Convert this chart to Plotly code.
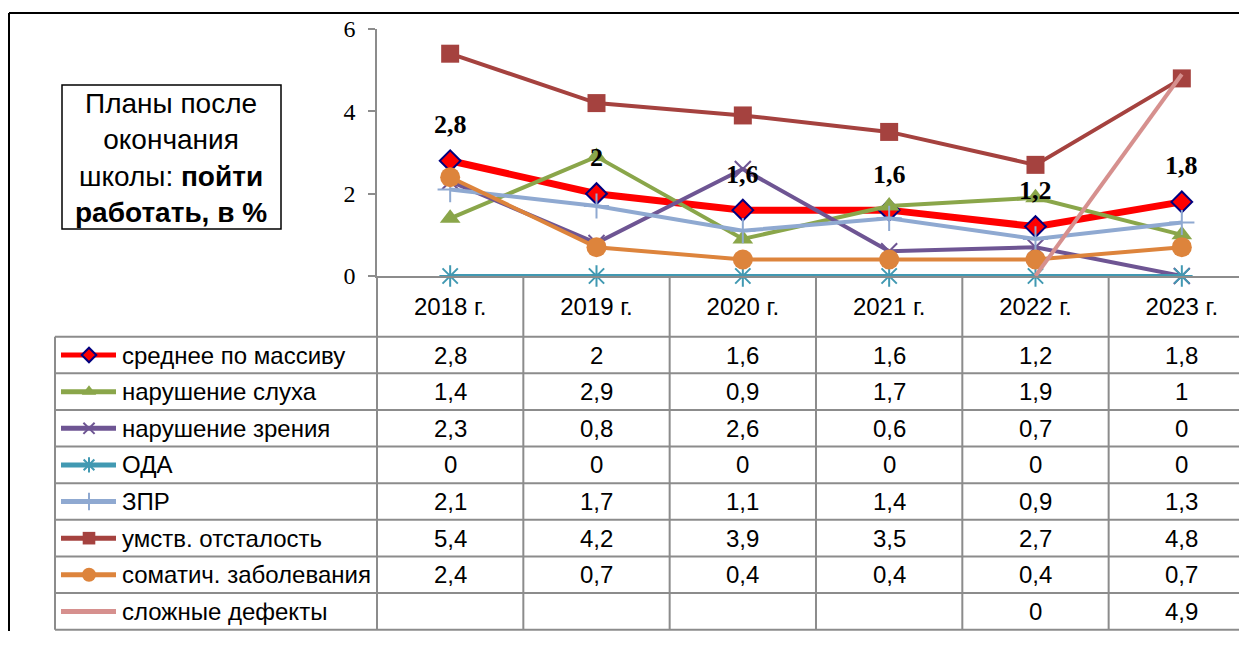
import plotly.graph_objects as go

years = ["2018 г.", "2019 г.", "2020 г.", "2021 г.", "2022 г.", "2023 г."]

names = ["среднее по массиву", "нарушение слуха", "нарушение зрения", "ОДА",
         "ЗПР", "умств. отсталость", "соматич. заболевания", "сложные дефекты"]

avg = [2.8, 2, 1.6, 1.6, 1.2, 1.8]
hearing = [1.4, 2.9, 0.9, 1.7, 1.9, 1]
vision = [2.3, 0.8, 2.6, 0.6, 0.7, 0]
oda = [0, 0, 0, 0, 0, 0]
zpr = [2.1, 1.7, 1.1, 1.4, 0.9, 1.3]
mental = [5.4, 4.2, 3.9, 3.5, 2.7, 4.8]
somatic = [2.4, 0.7, 0.4, 0.4, 0.4, 0.7]
complex_def = [None, None, None, None, 0, 4.9]

series = [avg, hearing, vision, oda, zpr, mental, somatic, complex_def]

# line colour, line width, marker symbol, marker size, marker colour, marker outline
styles = [
    ("#FF0000", 7, "diamond", 16, "#FF0000", dict(color="#00007F", width=2)),
    ("#8AA64A", 4, "triangle-up", 18, "#8AA64A", dict(width=0)),
    ("#6E5593", 4, "x-thin-open", 16, "#6E5593", dict(color="#6E5593", width=2)),
    ("#4199B2", 4, "asterisk-open", 18, "#4199B2", dict(color="#4199B2", width=2)),
    ("#8FA9D1", 4, "cross-thin-open", 18, "#8FA9D1", dict(color="#8FA9D1", width=2)),
    ("#A5423F", 4, "square", 18, "#A5423F", dict(width=0)),
    ("#DD843C", 4, "circle", 20, "#DD843C", dict(width=0)),
    ("#D6908E", 4, None, 0, "#D6908E", dict(width=0)),
]

OFF = 8  # the page body margin shifts the figure by this much
W, H = 1247 - 2 * OFF, 645 - 2 * OFF - 6  # keep the page inside the window
SERIF = "Liberation Serif"
SANS = "Liberation Sans"
GRID = "#8C8C8C"
CAT_W = 146.33


def fx(p):
    return (p - OFF) / W


def fy(p):
    return 1 - (p - OFF) / H


def fmt(v):
    if v is None:
        return ""
    return "{:g}".format(v).replace(".", ",")


X_DOM = [fx(377), 1]
X_RNG = [-0.5, -0.5 + (W + OFF - 377) / CAT_W]
Y_DOM = [fy(276), fy(29)]


def cat_px(v):
    # category coordinate -> paper x
    return X_DOM[0] + (v - X_RNG[0]) / (X_RNG[1] - X_RNG[0]) * (X_DOM[1] - X_DOM[0])


fig = go.Figure()

xs = list(range(len(years)))
for vals, (lc, lw, sym, ms, mc, mline) in zip(series, styles):
    fig.add_trace(go.Scatter(
        x=xs, y=vals,
        mode="lines+markers" if sym else "lines",
        line=dict(color=lc, width=lw),
        marker=dict(symbol=sym or "circle", size=ms, color=mc, line=mline),
        cliponaxis=False, showlegend=False, hoverinfo="skip",
    ))

# data labels of the average
for i, v in enumerate(avg):
    fig.add_annotation(x=i, y=v, xref="x", yref="y", text="<b>{}</b>".format(fmt(v)),
                       showarrow=False, yshift=36, xanchor="center", yanchor="middle",
                       font=dict(family=SERIF, size=26, color="black"))

# table geometry
row_top = 336.7
row_h = 36.63
table_left = 55
rows_bottom = row_top + row_h * len(names)

shapes = []
# outer chart frame (top and left edges are the only visible ones)
shapes.append(dict(type="line", xref="paper", yref="paper",
                   x0=fx(9), y0=fy(13), x1=1.0, y1=fy(13),
                   line=dict(color="black", width=2)))
shapes.append(dict(type="line", xref="paper", yref="paper",
                   x0=fx(9), y0=fy(13), x1=fx(9), y1=0,
                   line=dict(color="black", width=2)))
# title box
shapes.append(dict(type="rect", xref="paper", yref="paper",
                   x0=fx(62), y0=fy(85), x1=fx(281), y1=fy(229),
                   line=dict(color="black", width=1.5), fillcolor="white"))
# horizontal table lines
for k in range(len(names) + 1):
    y = fy(row_top + k * row_h)
    shapes.append(dict(type="line", xref="paper", yref="paper",
                       x0=fx(table_left), x1=1.0, y0=y, y1=y,
                       line=dict(color=GRID, width=2)))
# vertical table lines
shapes.append(dict(type="line", xref="paper", yref="paper",
                   x0=fx(table_left), x1=fx(table_left), y0=fy(row_top), y1=fy(rows_bottom),
                   line=dict(color=GRID, width=2)))
for k in range(len(years)):
    x = cat_px(k - 0.5)
    shapes.append(dict(type="line", xref="paper", yref="paper",
                       x0=x, x1=x, y0=fy(276), y1=fy(rows_bottom),
                       line=dict(color=GRID, width=2)))

# table cells
for r, (name, vals) in enumerate(zip(names, series)):
    yc = fy(row_top + (r + 0.5) * row_h)
    fig.add_annotation(x=fx(120), y=yc, xref="paper", yref="paper", text=name,
                       xanchor="left", yanchor="middle", showarrow=False,
                       font=dict(family=SANS, size=24, color="black"))
    for i, v in enumerate(vals):
        fig.add_annotation(x=i, y=yc, xref="x", yref="paper", text=fmt(v),
                           xanchor="center", yanchor="middle", showarrow=False,
                           font=dict(family=SANS, size=24, color="black"))

# legend keys inside the table (pixel overlay axes)
for r, (lc, lw, sym, ms, mc, mline) in enumerate(styles):
    yc = row_top + (r + 0.5) * row_h - OFF
    fig.add_trace(go.Scatter(x=[61 - OFF, 116 - OFF], y=[yc, yc], mode="lines",
                             line=dict(color=lc, width=5),
                             xaxis="x2", yaxis="y2", showlegend=False, hoverinfo="skip"))
    if sym:
        fig.add_trace(go.Scatter(x=[89 - OFF], y=[yc], mode="markers",
                                 marker=dict(symbol=sym, size=ms * 0.7, color=mc, line=mline),
                                 xaxis="x2", yaxis="y2", showlegend=False, hoverinfo="skip"))

# title text
fig.add_annotation(x=fx(171), y=fy(158), xref="paper", yref="paper",
                   text="Планы после<br>окончания<br>школы: <b>пойти</b><br><b>работать, в %</b>",
                   showarrow=False, align="center", xanchor="center", yanchor="middle",
                   font=dict(family=SANS, size=28, color="black"))

fig.update_layout(
    width=W, height=H,
    margin=dict(l=0, r=0, t=0, b=0, autoexpand=False),
    paper_bgcolor="white", plot_bgcolor="rgba(0,0,0,0)",
    shapes=shapes,
    xaxis=dict(domain=X_DOM, range=X_RNG, tickvals=xs, ticktext=years,
               showgrid=False, zeroline=False, showline=True, linecolor=GRID, linewidth=1.5,
               ticks="", ticklabelstandoff=8,
               tickfont=dict(family=SANS, size=24, color="black"), fixedrange=True),
    yaxis=dict(domain=Y_DOM, range=[0, 6], tickvals=[0, 2, 4, 6],
               showgrid=False, zeroline=False, showline=True, linecolor=GRID, linewidth=1.5,
               ticks="outside", ticklen=7, tickcolor=GRID, tickwidth=1.5, ticklabelstandoff=8,
               tickfont=dict(family=SERIF, size=24, color="black"), fixedrange=True),
    xaxis2=dict(domain=[0, 1], range=[0, W], visible=False, anchor="y2", fixedrange=True),
    yaxis2=dict(domain=[0, 1], range=[H, 0], visible=False, anchor="x2", fixedrange=True),
)

fig.write_html("out.html")
